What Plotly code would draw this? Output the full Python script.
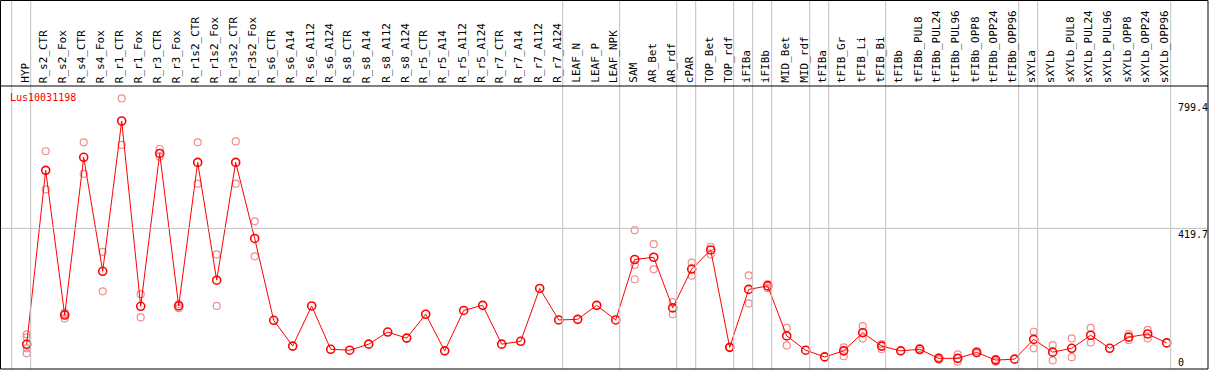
import plotly.graph_objects as go

W, H = 1209, 370

categories = ["HYP", "R_s2_CTR", "R_s2_Fox", "R_s4_CTR", "R_s4_Fox", "R_r1_CTR", "R_r1_Fox",
              "R_r3_CTR", "R_r3_Fox", "R_r1s2_CTR", "R_r1s2_Fox", "R_r3s2_CTR", "R_r3s2_Fox",
              "R_s6_CTR", "R_s6_A14", "R_s6_A112", "R_s6_A124", "R_s8_CTR", "R_s8_A14", "R_s8_A112",
              "R_s8_A124", "R_r5_CTR", "R_r5_A14", "R_r5_A112", "R_r5_A124", "R_r7_CTR", "R_r7_A14",
              "R_r7_A112", "R_r7_A124", "LEAF_N", "LEAF_P", "LEAF_NPK", "SAM", "AR_Bet", "AR_rdf",
              "cPAR", "TOP_Bet", "TOP_rdf", "iFIBa", "iFIBb", "MID_Bet", "MID_rdf", "tFIBa",
              "tFIB_Gr", "tFIB_Li", "tFIB_Bi", "tFIBb", "tFIBb_PUL8", "tFIBb_PUL24", "tFIBb_PUL96",
              "tFIBb_OPP8", "tFIBb_OPP24", "tFIBb_OPP96", "sXYLa", "sXYLb", "sXYLb_PUL8",
              "sXYLb_PUL24", "sXYLb_PUL96", "sXYLb_OPP8", "sXYLb_OPP24", "sXYLb_OPP96"]

mean_values = [55.6, 602, 147.6, 643, 285, 757, 175, 655, 176, 627, 257, 627, 388,
               131, 50, 176, 40, 37, 56, 94, 75, 150, 35, 162, 178, 56, 65, 231, 132,
               134, 178, 132, 322, 329, 170, 292, 352, 46, 228, 239, 82, 37, 16,
               35, 92, 50, 35, 40, 11.5, 11.5, 30, 6, 9, 71, 31, 43, 84, 43, 78, 88, 60]

replicates = [[87, 77.6, 43, 27.2], [662, 542], [155, 150, 137], [690, 591], [346, 222],
              [828, 682], [213, 140], [669, 645], [182, 169], [690, 560], [338, 176],
              [693, 560], [442, 332], [], [], [], [], [], [], [], [], [], [], [], [], [], [],
              [], [], [], [], [], [414, 305, 260], [370, 291], [188, 150], [312, 271],
              [362, 338], [46], [272, 184], [245, 232], [107, 52], [], [], [46, 18], [113, 74],
              [56, 40], [], [44, 36], [14, 8], [24, 1], [34, 27], [9, 1], [], [95, 43], [53, 5],
              [74, 15], [107, 61], [], [88, 69], [101, 74], []]

group_ends = ["HYP", "R_r7_A124", "LEAF_NPK", "AR_rdf", "cPAR", "TOP_rdf", "iFIBa", "iFIBb",
              "MID_rdf", "tFIBa", "tFIB_Bi", "tFIBb_OPP96", "sXYLa", "sXYLb_OPP96"]

tick_values = [799.4, 419.7, 0]
tick_labels = ["799.4", "419.7", "0"]
gene_name = "Lus10031198"

# ---- geometry (pixel helpers) ----
X0, DX = 26.7, 19.0           # pixel of first category, category spacing
x_range = [-X0 / DX, (W - X0) / DX]
HEADER_Y = 86                  # pixel row of header separator
BOTTOM_Y = 369
ZERO_Y, PX_PER_UNIT = 362.0, 0.31836
y_range = [(ZERO_Y - BOTTOM_Y) / PX_PER_UNIT, (ZERO_Y - HEADER_Y) / PX_PER_UNIT]


def py(p):  # pixel row -> paper fraction
    return (H - p) / H


def px(p):
    return p / W


xs = list(range(len(categories)))
rx, ry = [], []
for i, reps in enumerate(replicates):
    for v in reps:
        rx.append(i)
        ry.append(v)

fig = go.Figure()
fig.add_trace(go.Scatter(x=rx, y=ry, mode="markers", hoverinfo="skip",
                         marker=dict(symbol="circle-open", size=7, color="#f28c8c",
                                     line=dict(width=1.2))))
fig.add_trace(go.Scatter(x=xs, y=mean_values, mode="lines+markers",
                         line=dict(color="#ff0000", width=1),
                         marker=dict(symbol="circle-open", size=8, color="#ff0000",
                                     line=dict(width=1.6))))

shapes = []
# separators
sep_idx = [-1] + [categories.index(c) for c in group_ends]
for i in sep_idx:
    shapes.append(dict(type="line", xref="x", yref="paper", x0=i + 4 / DX, x1=i + 4 / DX,
                       y0=py(BOTTOM_Y), y1=1, line=dict(color="#c0c0c0", width=1)))
# gridline at middle tick
shapes.append(dict(type="line", xref="paper", yref="y", x0=0, x1=px(1208),
                   y0=tick_values[1], y1=tick_values[1], line=dict(color="#c0c0c0", width=1)))
# header separator
shapes.append(dict(type="line", xref="paper", yref="paper", x0=0, x1=px(1208),
                   y0=py(HEADER_Y), y1=py(HEADER_Y), line=dict(color="black", width=1)))
# border
shapes.append(dict(type="rect", xref="paper", yref="paper", x0=px(0.5), x1=px(1208),
                   y0=py(BOTTOM_Y), y1=py(0.5), line=dict(color="black", width=1)))

annotations = []
for i, c in enumerate(categories):
    annotations.append(dict(x=i, y=py(HEADER_Y - 2), xref="x", yref="paper", text=c,
                            textangle=-90, showarrow=False, xanchor="center", yanchor="bottom",
                            xshift=-2, borderpad=0,
                            font=dict(family="DejaVu Sans Mono", size=11, color="black")))
for v, t in zip(tick_values, tick_labels):
    annotations.append(dict(x=px(1177), y=v, xref="paper", yref="y", text=t, showarrow=False,
                            xanchor="left", yanchor="top" if t == tick_labels[1] else "middle",
                            borderpad=0,
                            font=dict(family="DejaVu Sans Mono", size=10, color="black")))
annotations.append(dict(x=px(9), y=py(97), xref="paper", yref="paper", text=gene_name,
                        showarrow=False, xanchor="left", yanchor="middle", borderpad=0,
                        font=dict(family="DejaVu Sans Mono", size=10, color="#ff0000")))

fig.update_layout(
    width=W, height=H, margin=dict(l=0, r=0, t=0, b=0),
    paper_bgcolor="white", plot_bgcolor="white", showlegend=False,
    xaxis=dict(range=x_range, visible=False, domain=[0, 1], fixedrange=True),
    yaxis=dict(range=y_range, visible=False, domain=[py(BOTTOM_Y), py(HEADER_Y)],
               fixedrange=True),
    shapes=shapes, annotations=annotations,
)

fig.write_html("out.html", config={"displayModeBar": False},
               post_script="document.body.style.margin='0px';document.body.style.overflow='hidden';")
